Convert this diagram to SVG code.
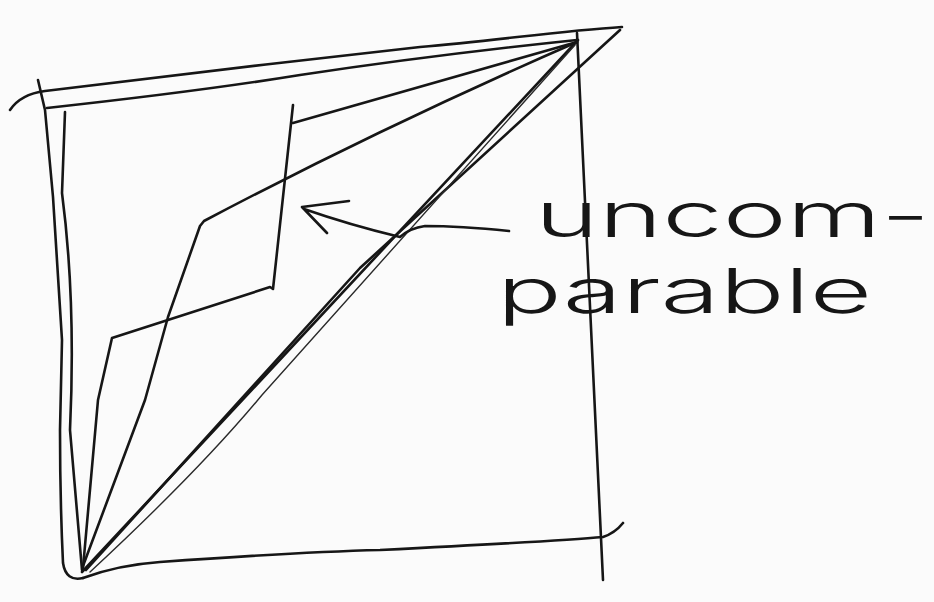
<svg xmlns="http://www.w3.org/2000/svg" width="934" height="602" viewBox="0 0 934 602">
  <style>
    .ink { fill: none; stroke: #161616; stroke-width: 2.6; stroke-linecap: round; stroke-linejoin: round; }
    .thin { fill: none; stroke: #2a2a2a; stroke-width: 1.4; stroke-linecap: round; stroke-linejoin: round; }
    .hand { font-family: Inter, "Liberation Sans", Arial, sans-serif; font-weight: 300; font-size: 62px; fill: #161616; }
  </style>
  <rect width="934" height="602" fill="#fbfbfb"/>

  <g id="square">
    <path class="ink" d="M10,110 C18,98 30,93 45,91 C150,78 300,60 420,47 C500,40 560,31 622,27"/>
    <path class="ink" d="M47,108 C120,100 220,88 300,75 C400,60 500,48 577,40"/>
    <path class="ink" d="M38,80 L45,110 L53,197 L62,340 L60,430 Q60,500 63,563 Q66,582 83,578"/>
    <path class="ink" d="M65,112 L62,193 Q76,300 70,430 L82,570"/>
    <path class="ink" d="M577,33 L603,580"/>
    <path class="ink" d="M83,578 Q118,565 160,562 Q300,552 380,550 Q560,541 603,537 Q615,533 623,523"/>
  </g>

  <g id="connectors">
    <path id="diagonal" class="ink" d="M82,572 L578,40"/>
    <path id="diagonal-2" class="ink" d="M86,570 L360,268 L620,30"/>
    <path id="diagonal-3" class="thin" d="M90,572 Q200,470 262,395 L575,45"/>
    <path id="path-a" class="ink" d="M83,568 L98,400 L112,338 L270,287 L273,289 L293,105 M293,123 L577,42"/>
    <path id="path-b" class="ink" d="M83,566 L145,400 L168,317 L200,226 L204,221 Q380,128 577,42"/>
    <path id="arrow" class="ink" d="M509,231 Q460,226 425,226 Q410,228 400,237 Q350,225 304,209 M349,201 L302,207 L327,233"/>
  </g>

  <g id="label">
    <text class="hand" x="535" y="237" textLength="395" lengthAdjust="spacingAndGlyphs">uncom-</text>
    <text class="hand" x="497" y="313" textLength="375" lengthAdjust="spacingAndGlyphs">parable</text>
  </g>
</svg>
